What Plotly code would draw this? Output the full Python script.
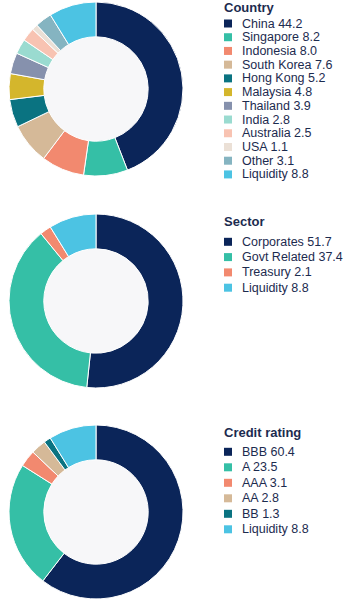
import plotly.graph_objects as go

W, H = 352, 604

# ---- data ----
country_labels = ["China", "Singapore", "Indonesia", "South Korea", "Hong Kong", "Malaysia",
                  "Thailand", "India", "Australia", "USA", "Other", "Liquidity"]
country_values = [44.2, 8.2, 8.0, 7.6, 5.2, 4.8, 3.9, 2.8, 2.5, 1.1, 3.1, 8.8]
country_colors = ["#0b2559", "#35bfa6", "#f2896f", "#d5b998", "#0a7381", "#d4b62c",
                  "#8691ad", "#9adbd0", "#f8c3b2", "#ebe0d6", "#85b4c1", "#4cc3e3"]

sector_labels = ["Corporates", "Govt Related", "Treasury", "Liquidity"]
sector_values = [51.7, 37.4, 2.1, 8.8]
sector_colors = ["#0b2559", "#35bfa6", "#f2896f", "#4cc3e3"]

rating_labels = ["BBB", "A", "AAA", "AA", "BB", "Liquidity"]
rating_values = [60.4, 23.5, 3.1, 2.8, 1.3, 8.8]
rating_colors = ["#0b2559", "#35bfa6", "#f2896f", "#d5b998", "#0a7381", "#4cc3e3"]

titles = ["Country", "Sector", "Credit rating"]

# ---- layout constants (pixels) ----
TEXT = "#1c2b4f"
FONT = "Liberation Sans, Arial, sans-serif"
cx, R = 96, 87
centers_y = [89, 301, 512]
hole = 0.6
# legend: title center y, first item center y, row spacing
legend_specs = [(7.5, 23.5, 13.72), (221, 241.8, 15.3), (432.3, 451.8, 15.5)]

fig = go.Figure()
shapes = []
annotations = []

groups = [
    (country_labels, country_values, country_colors),
    (sector_labels, sector_values, sector_colors),
    (rating_labels, rating_values, rating_colors),
]

for gi, (labels, values, colors) in enumerate(groups):
    cy = centers_y[gi]
    fig.add_trace(go.Pie(
        labels=labels, values=values, sort=False, direction="clockwise", rotation=0,
        hole=hole, textinfo="none", hoverinfo="label+value", showlegend=False,
        marker=dict(colors=colors, line=dict(color="white", width=1)),
        domain=dict(x=[(cx - R) / W, (cx + R) / W], y=[1 - (cy + R) / H, 1 - (cy - R) / H]),
    ))
    r = R * hole
    shapes.append(dict(type="circle", xref="paper", yref="paper", layer="below",
                       x0=(cx - r) / W, x1=(cx + r) / W, y0=1 - (cy + r) / H, y1=1 - (cy - r) / H,
                       fillcolor="#f7f7f9", line=dict(width=0)))
    ty, y0, dy = legend_specs[gi]
    annotations.append(dict(text="<b>" + titles[gi] + "</b>", xref="paper", yref="paper",
                            x=222 / W, y=1 - ty / H, xanchor="left", yanchor="middle",
                            showarrow=False, font=dict(size=13, color=TEXT, family=FONT)))
    for i, (lab, val, col) in enumerate(zip(labels, values, colors)):
        yc = y0 + i * dy
        shapes.append(dict(type="rect", xref="paper", yref="paper",
                           x0=224 / W, x1=232 / W, y0=1 - (yc + 4) / H, y1=1 - (yc - 4) / H,
                           fillcolor=col, line=dict(width=0)))
        annotations.append(dict(text=f"{lab} {val:.1f}", xref="paper", yref="paper",
                                x=240 / W, y=1 - yc / H, xanchor="left", yanchor="middle",
                                showarrow=False, font=dict(size=12.5, color=TEXT, family=FONT)))

fig.update_layout(
    width=W, height=H, margin=dict(l=0, r=0, t=0, b=0),
    paper_bgcolor="white", plot_bgcolor="white",
    shapes=shapes, annotations=annotations, showlegend=False,
)

fig.write_html("out.html", config={"displayModeBar": False})
